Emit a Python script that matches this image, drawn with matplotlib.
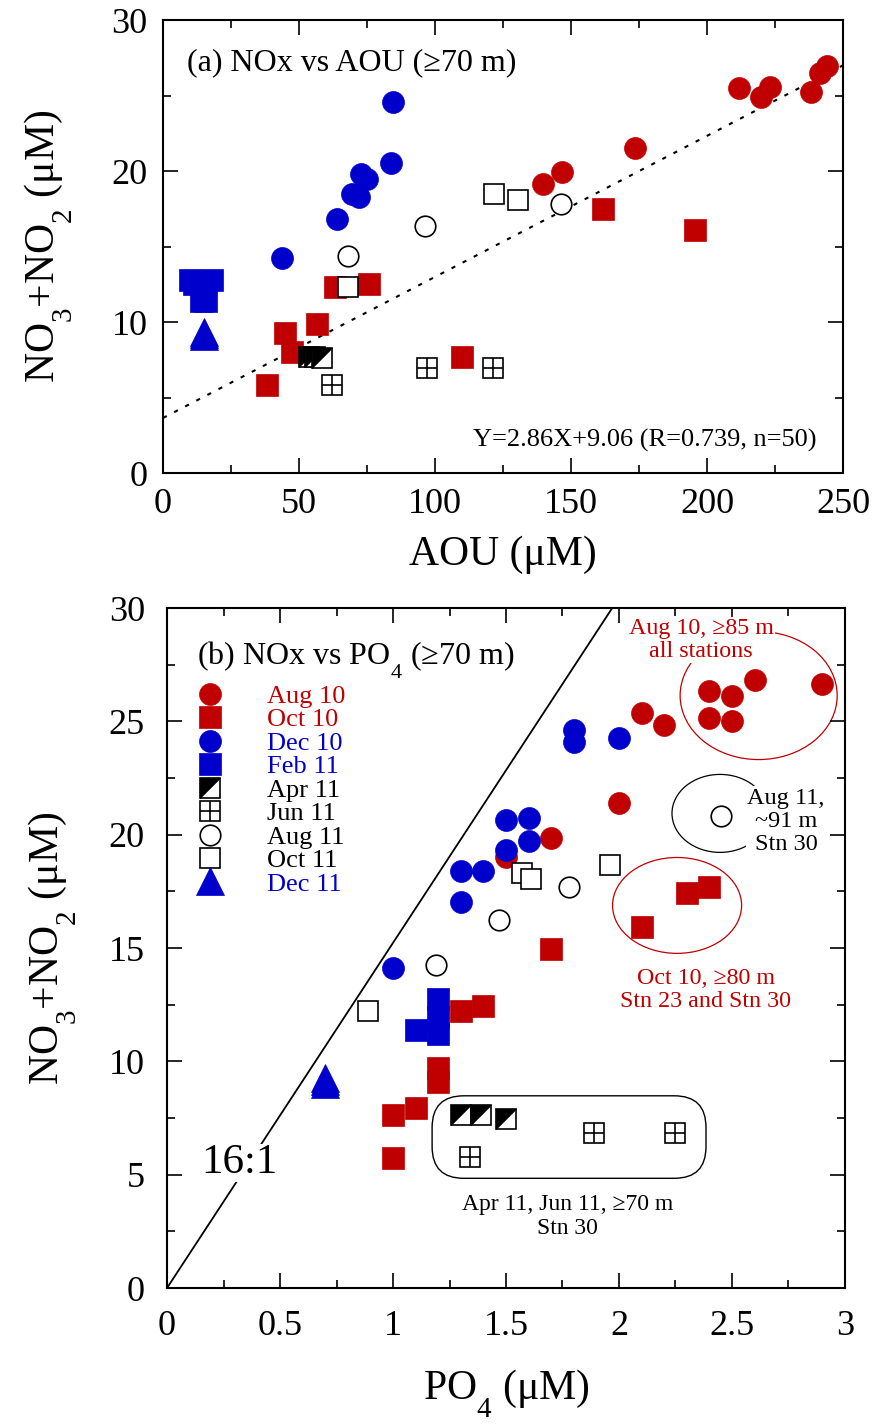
import numpy as np
import matplotlib
matplotlib.use('Agg')
import matplotlib.pyplot as plt
from matplotlib.patches import Ellipse, FancyBboxPatch
from matplotlib.ticker import MultipleLocator, FormatStrFormatter

plt.rcParams['font.family'] = ['Liberation Serif', 'DejaVu Serif']
plt.rcParams['mathtext.fontset'] = 'custom'
plt.rcParams['mathtext.rm'] = 'Liberation Serif'
plt.rcParams['mathtext.it'] = 'Liberation Serif:italic'

# subscripts in the original sit well below the baseline
try:
    from matplotlib import _mathtext
    _mathtext.FontConstantsBase.sub1 = 0.95
except Exception:
    pass

RED = '#c00000'
BLUE = '#0000cc'

# ---- panel (a): NOx vs AOU ----
aou_aug10 = [139.8, 146.7, 173.6, 211.8, 219.7, 223.3, 238.4, 241.5, 244.0]
nox_aug10_a = [19.14, 19.93, 21.54, 25.48, 24.92, 25.54, 25.25, 26.47, 26.95]
aou_oct10 = [63.2, 75.6, 56.7, 44.9, 47.5, 38.3, 110.0, 161.6, 195.7]
nox_oct10_a = [12.34, 12.52, 9.85, 9.25, 8.03, 5.83, 7.70, 17.46, 16.07]
aou_dec10 = [84.7, 83.8, 72.9, 74.9, 69.6, 72.1, 63.9, 43.8]
nox_dec10_a = [24.55, 20.55, 19.8, 19.45, 18.5, 18.26, 16.84, 14.22]
aou_feb11 = [10.0, 17.9, 11.5, 14.0, 15.7]
nox_feb11_a = [12.8, 12.8, 12.5, 11.4, 11.4]
aou_apr11 = [53.7, 55.8, 58.3]
nox_apr11_a = [7.7, 7.7, 7.65]
aou_jun11 = [62.3, 97.2, 121.4]
nox_jun11_a = [5.83, 6.93, 6.93]
aou_aug11 = [68.1, 96.4, 146.3]
nox_aug11_a = [14.37, 16.36, 17.8]
aou_oct11 = [68.1, 121.8, 130.6]
nox_oct11_a = [12.34, 18.45, 18.1]
aou_dec11 = [15.0, 15.0, 15.0]
nox_dec11_a = [9.33, 9.2, 9.1]

fit_x = [0, 250]
fit_y = [3.65, 27.0]

# ---- panel (b): NOx vs PO4 ----
po4_aug10 = [2.1, 2.2, 2.4, 2.5, 2.6, 2.9, 2.4, 2.5, 2.0, 1.7, 1.5]
nox_aug10_b = [25.38, 24.82, 26.35, 26.13, 26.82, 26.63, 25.13, 25.03, 21.41, 19.84, 19.03]
po4_oct10 = [2.1, 2.3, 2.4, 1.7, 1.3, 1.4, 1.2, 1.2, 1.0, 1.1, 1.0]
nox_oct10_b = [15.94, 17.44, 17.7, 14.94, 12.23, 12.44, 9.72, 9.1, 7.63, 7.93, 5.73]
po4_dec10 = [1.8, 1.8, 2.0, 1.5, 1.6, 1.6, 1.5, 1.3, 1.4, 1.3, 1.0]
nox_dec10_b = [24.62, 24.1, 24.26, 20.64, 20.72, 19.73, 19.32, 18.41, 18.41, 17.05, 14.14]
po4_feb11 = [1.1, 1.2, 1.2, 1.2]
nox_feb11_b = [11.38, 12.73, 11.97, 11.2]
po4_apr11 = [1.3, 1.39, 1.5]
nox_apr11_b = [7.63, 7.63, 7.44]
po4_jun11 = [1.34, 1.89, 2.25]
nox_jun11_b = [5.79, 6.82, 6.85]
po4_aug11 = [1.19, 1.47, 1.78, 2.45]
nox_aug11_b = [14.25, 16.23, 17.7, 20.82]
po4_oct11 = [0.89, 1.57, 1.61, 1.96]
nox_oct11_b = [12.23, 18.32, 18.03, 18.66]
po4_dec11 = [0.7, 0.7, 0.7]
nox_dec11_b = [9.26, 9.13, 9.0]

ratio_x = [0, 1.97]
ratio_y = [0, 30]

labels = ['Aug 10', 'Oct 10', 'Dec 10', 'Feb 11', 'Apr 11',
          'Jun 11', 'Aug 11', 'Oct 11', 'Dec 11']
label_colors = [RED, RED, BLUE, BLUE, 'black', 'black', 'black', 'black', BLUE]

MS = 15.8
HALF = [(-1, -1), (-1, 1), (1, 1), (-1, -1)]


def filled(ax, x, y, marker, color, ms=MS):
    h, = ax.plot(x, y, ls='none', marker=marker, ms=ms, mfc=color,
                 mec=color, mew=0.5)
    return h


def hollow(ax, x, y, marker, ms=MS - 1):
    h, = ax.plot(x, y, ls='none', marker=marker, ms=ms, mfc='white',
                 mec='black', mew=1.2)
    return h


def half_square(ax, x, y):
    for xi, yi in zip(x, y):
        sq = hollow(ax, [xi], [yi], 's', ms=MS - 1)
        tri, = ax.plot([xi], [yi], ls='none', marker=HALF, ms=MS - 1,
                       mfc='black', mec='black', mew=0.3)
    return (sq, tri)


def cross_square(ax, x, y):
    sq = hollow(ax, x, y, 's', ms=MS - 1)
    pl, = ax.plot(x, y, ls='none', marker='+', ms=MS - 1, mec='black', mew=1.2)
    return (sq, pl)


def style_axes(ax, pad):
    ax.tick_params(which='both', direction='in', top=True, right=True,
                   width=1.2, labelsize=26, pad=pad)
    ax.tick_params(which='major', length=11)
    ax.tick_params(which='minor', length=6)
    for s in ax.spines.values():
        s.set_linewidth(1.5)


fig = plt.figure(figsize=(8.74, 14.24), dpi=100)
ax1 = fig.add_axes([0.1865, 0.6678, 0.778, 0.3181])
ax2 = fig.add_axes([0.1911, 0.0955, 0.7757, 0.4775])

# ---------- panel (a) ----------
ax1.plot(fit_x, fit_y, color='black', lw=1.5, ls=(0, (2, 4)))
filled(ax1, aou_aug10, nox_aug10_a, 'o', RED)
filled(ax1, aou_oct10, nox_oct10_a, 's', RED)
filled(ax1, aou_dec10, nox_dec10_a, 'o', BLUE)
filled(ax1, aou_feb11, nox_feb11_a, 's', BLUE)
half_square(ax1, aou_apr11, nox_apr11_a)
cross_square(ax1, aou_jun11, nox_jun11_a)
hollow(ax1, aou_aug11, nox_aug11_a, 'o')
hollow(ax1, aou_oct11, nox_oct11_a, 's')
filled(ax1, aou_dec11, nox_dec11_a, '^', BLUE, ms=20.5)

ax1.set_xlim(0, 250)
ax1.set_ylim(0, 30)
ax1.xaxis.set_major_locator(MultipleLocator(50))
ax1.xaxis.set_minor_locator(MultipleLocator(25))
ax1.yaxis.set_major_locator(MultipleLocator(10))
ax1.yaxis.set_minor_locator(MultipleLocator(5))
style_axes(ax1, 11)
ax1.set_xlabel('AOU (μM)', fontsize=30)
ax1.set_ylabel(r'NO$_\mathregular{3}$+NO$_\mathregular{2}$ (μM)', fontsize=30)
ax1.xaxis.set_label_coords(0.5, -0.137)
ax1.yaxis.set_label_coords(-0.13, 0.5)
ax1.text(0.035, 0.89, '(a) NOx vs AOU (≥70 m)', transform=ax1.transAxes,
         fontsize=23, va='baseline')
ax1.text(0.961, 0.058, 'Y=2.86X+9.06 (R=0.739, n=50)', transform=ax1.transAxes,
         fontsize=19, ha='right', va='baseline')

# ---------- panel (b) ----------
ax2.plot(ratio_x, ratio_y, color='black', lw=1.3)
ax2.text(0.321, 5.51, '16:1', fontsize=31, ha='center', va='center',
         bbox=dict(facecolor='white', edgecolor='none', pad=0))

ax2.add_patch(Ellipse((2.618, 26.14), 0.695, 5.65, fill=False, ec=RED, lw=0.9))
ax2.add_patch(Ellipse((2.447, 20.94), 0.425, 3.44, fill=False, ec='black', lw=0.9))
ax2.add_patch(Ellipse((2.257, 16.88), 0.571, 4.23, fill=False, ec=RED, lw=0.9))
ax2.add_patch(FancyBboxPatch((1.173, 4.84), 2.385 - 1.173, 8.48 - 4.84,
                             boxstyle='round,pad=0,rounding_size=0.14',
                             mutation_aspect=226 / 22.67,
                             fill=False, ec='black', lw=1.0))

handles = []
handles.append(filled(ax2, po4_aug10, nox_aug10_b, 'o', RED))
handles.append(filled(ax2, po4_oct10, nox_oct10_b, 's', RED))
handles.append(filled(ax2, po4_dec10, nox_dec10_b, 'o', BLUE))
handles.append(filled(ax2, po4_feb11, nox_feb11_b, 's', BLUE))
handles.append(half_square(ax2, po4_apr11, nox_apr11_b))
handles.append(cross_square(ax2, po4_jun11, nox_jun11_b))
handles.append(hollow(ax2, po4_aug11, nox_aug11_b, 'o'))
handles.append(hollow(ax2, po4_oct11, nox_oct11_b, 's'))
handles.append(filled(ax2, po4_dec11, nox_dec11_b, '^', BLUE, ms=20.5))

leg = ax2.legend(handles, labels, loc='upper left', bbox_to_anchor=(0.044, 0.8876),
                 fontsize=19, frameon=False, handlelength=1.0, handletextpad=1.66,
                 labelspacing=0.0, borderaxespad=0, borderpad=0, numpoints=1)
for t, c in zip(leg.get_texts(), label_colors):
    t.set_color(c)

box = dict(facecolor='white', edgecolor='none', pad=1)
ax2.text(2.363, 28.58, 'Aug 10, ≥85 m\nall stations', color=RED, fontsize=17.3,
         ha='center', va='center', linespacing=1.1, bbox=box)
ax2.text(2.739, 20.6, 'Aug 11,\n~91 m\nStn 30', color='black', fontsize=17.5,
         ha='center', va='center', linespacing=1.12, bbox=box)
ax2.text(2.383, 13.15, 'Oct 10, ≥80 m\nStn 23 and Stn 30', color=RED, fontsize=17.3,
         ha='center', va='center', linespacing=1.15)
ax2.text(1.774, 3.15, 'Apr 11, Jun 11, ≥70 m\nStn 30', color='black', fontsize=17,
         ha='center', va='center', linespacing=1.15)

ax2.set_xlim(0, 3)
ax2.set_ylim(0, 30)
ax2.xaxis.set_major_locator(MultipleLocator(0.5))
ax2.xaxis.set_minor_locator(MultipleLocator(0.25))
ax2.xaxis.set_major_formatter(FormatStrFormatter('%g'))
ax2.yaxis.set_major_locator(MultipleLocator(5))
ax2.yaxis.set_minor_locator(MultipleLocator(2.5))
style_axes(ax2, 16)
ax2.set_xlabel(r'PO$_\mathregular{4}$ (μM)', fontsize=30)
ax2.set_ylabel(r'NO$_\mathregular{3}$+NO$_\mathregular{2}$ (μM)', fontsize=30)
ax2.xaxis.set_label_coords(0.5, -0.117)
ax2.yaxis.set_label_coords(-0.13, 0.5)
ax2.text(0.044, 0.916, r'(b) NOx vs PO$_\mathregular{4}$ (≥70 m)',
         transform=ax2.transAxes, fontsize=23, va='baseline')

fig.savefig('out.png', dpi=100)
